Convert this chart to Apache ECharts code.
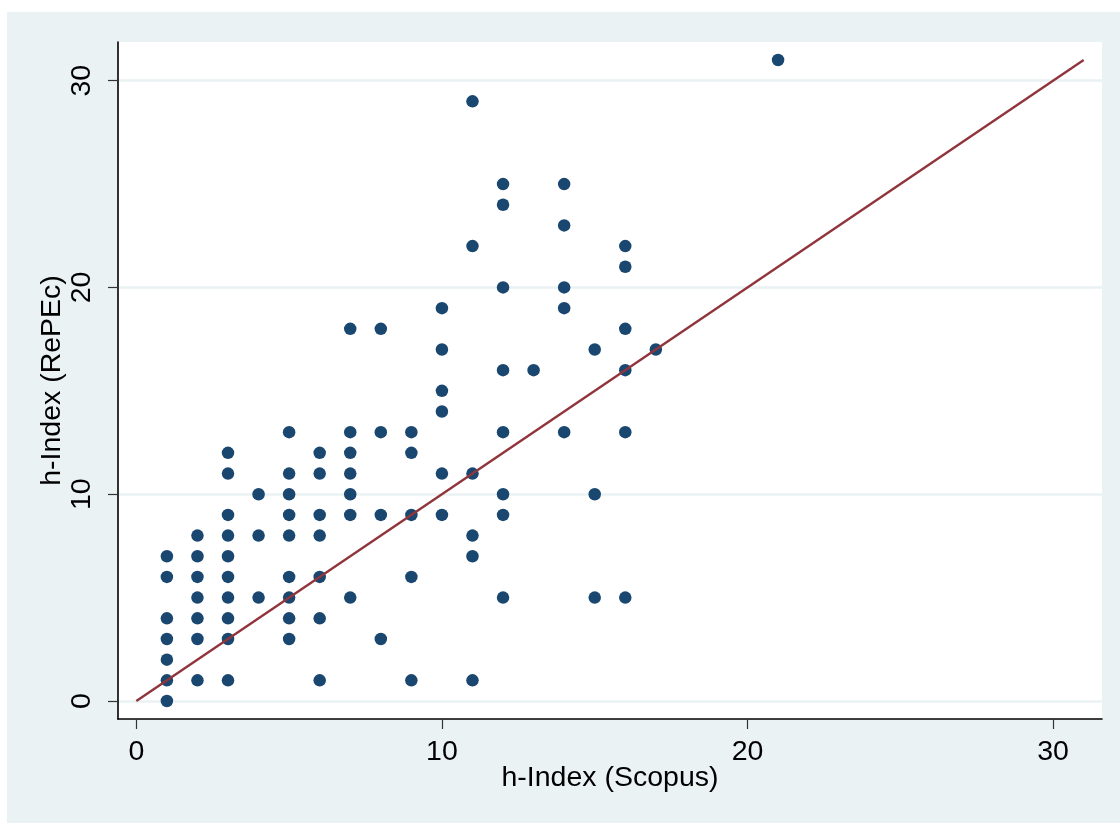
<!DOCTYPE html>
<html>
<head>
<meta charset="utf-8">
<script src="https://cdn.jsdelivr.net/npm/echarts@6/dist/echarts.min.js"></script>
<style>
html,body{margin:0;padding:0;background:#fff;}
#c{width:1120px;height:823px;}
</style>
</head>
<body>
<div id="c"></div>
<script>
// h-Index pairs
const scopus = [
  1,1,1,1,1,1,1,
  2,2,2,2,2,2,2,
  3,3,3,3,3,3,3,3,3,3,
  4,4,4,
  5,5,5,5,5,5,5,5,5,
  6,6,6,6,6,6,6,
  7,7,7,7,7,7,7,
  8,8,8,8,
  9,9,9,9,9,
  10,10,10,10,10,10,
  11,11,11,11,11,11,
  12,12,12,12,12,12,12,12,
  13,
  14,14,14,14,14,
  15,15,15,
  16,16,16,16,16,16,
  17,
  21
];
const repec = [
  7,6,4,3,2,1,0,
  8,7,6,5,4,3,1,
  12,11,9,8,7,6,5,4,3,1,
  10,8,5,
  13,11,10,9,8,6,5,4,3,
  12,11,9,8,6,4,1,
  18,13,12,11,10,9,5,
  18,13,9,3,
  13,12,9,6,1,
  19,17,15,14,11,9,
  29,22,11,8,7,1,
  25,24,20,16,13,10,9,5,
  16,
  25,23,20,19,13,
  17,10,5,
  22,21,18,16,13,5,
  17,
  31
];
const lineX = [0, 31];
const lineY = [0, 31];
const tickValues = [0, 10, 20, 30];
const xTitle = 'h-Index (Scopus)';
const yTitle = 'h-Index (RePEc)';

const points = scopus.map((v, i) => [v, repec[i]]);
const linePts = lineX.map((v, i) => [v, lineY[i]]);

const chart = echarts.init(document.getElementById('c'), null, {renderer: 'canvas'});
const font = 'Liberation Sans, Arial, sans-serif';
const fs = 28.5;
chart.setOption({
  animation: false,
  backgroundColor: '#ffffff',
  graphic: [{
    type: 'rect', left: 7, top: 12, z: -10,
    shape: {width: 1113, height: 811},
    style: {fill: '#eaf2f3'}
  }],
  grid: {
    left: 118, top: 42, right: 18, bottom: 104,
    show: true, backgroundColor: '#ffffff', borderWidth: 0
  },
  xAxis: {
    type: 'value', min: -0.6, max: 31.6,
    name: xTitle, nameLocation: 'middle', nameGap: 45, nameMoveOverlap: false,
    nameTextStyle: {fontFamily: font, fontSize: fs, color: '#000'},
    axisLine: {show: true, onZero: false, lineStyle: {color: '#000', width: 1.6}},
    axisTick: {show: true, length: 10, customValues: tickValues, lineStyle: {color: '#333', width: 1.2}},
    axisLabel: {customValues: tickValues, fontFamily: font, fontSize: fs, color: '#000', margin: 19},
    splitLine: {show: false}
  },
  yAxis: {
    type: 'value', min: -0.87, max: 31.87,
    name: yTitle, nameLocation: 'middle', nameGap: 51, nameRotate: 90, nameMoveOverlap: false,
    nameTextStyle: {fontFamily: font, fontSize: fs, color: '#000'},
    axisLine: {show: true, onZero: false, lineStyle: {color: '#000', width: 1.6}},
    axisTick: {show: true, length: 10, customValues: tickValues, lineStyle: {color: '#333', width: 1.2}},
    axisLabel: {customValues: tickValues, rotate: 90, fontFamily: font, fontSize: fs, color: '#000', margin: 21},
    splitLine: {show: true, lineStyle: {color: '#eaf2f3', width: 2.5}}
  },
  series: [
    {
      type: 'scatter', data: points, symbol: 'circle', symbolSize: 12.5,
      itemStyle: {color: '#1a476f', opacity: 1}, z: 3
    },
    {
      type: 'line', data: linePts, symbol: 'none', smooth: false,
      lineStyle: {color: '#90353b', width: 2.4}, z: 4
    }
  ]
});
</script>
</body>
</html>
